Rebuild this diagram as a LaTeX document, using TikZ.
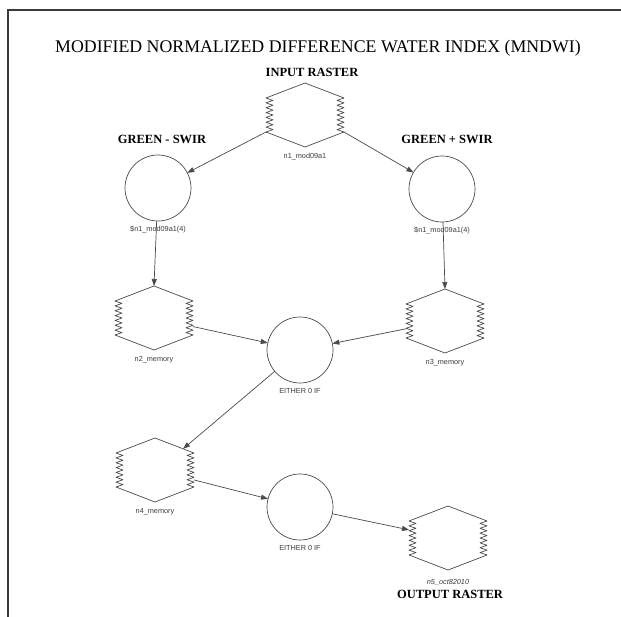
\documentclass[tikz,border=0pt]{standalone}
\usepackage{fontspec}
\setmainfont{Liberation Serif}
\newfontfamily\labelfont{Liberation Sans}
\usetikzlibrary{calc,arrows.meta}
\definecolor{linegray}{HTML}{4A4A4A}
\definecolor{framegray}{HTML}{3A3A3A}
\definecolor{labelgray}{HTML}{3C3C3C}

% Outline of a raster node: pointed top and bottom, zigzag sides folded inward
\newcommand\rasteroutline[1]{%
  \coordinate (#1-tl) at ($(#1.north west)+(0pt,-15pt)$);
  \coordinate (#1-bl) at ($(#1.south west)+(0pt,15pt)$);
  \coordinate (#1-tr) at ($(#1.north east)+(0pt,-15pt)$);
  \coordinate (#1-br) at ($(#1.south east)+(0pt,15pt)$);
  \draw[hexline] (#1-tl) -- (#1.north) -- (#1-tr);
  \draw[hexline] (#1-bl) -- (#1.south) -- (#1-br);
  \draw[hexline] (#1-tl) \foreach \k in {1,...,7} { -- ++(7pt,-2.4286pt) -- ++(-7pt,-2.4286pt) };
  \draw[hexline] (#1-tr) \foreach \k in {1,...,7} { -- ++(-7pt,-2.4286pt) -- ++(7pt,-2.4286pt) };
}

\begin{document}
\begin{tikzpicture}[x=1pt,y=-1pt,
  rasterbox/.style={rectangle, draw=none, minimum width=78pt, minimum height=64pt, inner sep=0pt, outer sep=0pt},
  procnode/.style={circle, draw=linegray, line width=0.7pt, minimum size=66pt, inner sep=0pt, outer sep=0pt},
  hexline/.style={draw=linegray, line width=0.7pt, line join=round},
  tag/.style={font=\labelfont\fontsize{7.3}{8}\selectfont, text=labelgray, inner sep=0pt},
  heading/.style={font=\fontsize{12.5}{14}\selectfont\bfseries, inner sep=0pt},
  flow/.style={draw=linegray, line width=0.7pt, -{Triangle[length=7pt,width=5pt]}},
]
\useasboundingbox (0,0) rectangle (621,616);
\fill[white] (0,0) rectangle (621,616);

% frame (left and top edges)
\draw[framegray, line width=2pt] (8,617) -- (8,10) -- (622,10);

% title and headings
\node[font=\fontsize{17.8}{20}\selectfont, inner sep=0pt] (title) at (318,48)
  {MODIFIED NORMALIZED DIFFERENCE WATER INDEX (MNDWI)};
\node[heading] (hin) at (312,72) {INPUT RASTER};
\node[heading] (hminus) at (162,139) {GREEN - SWIR};
\node[heading] (hplus) at (447,139) {GREEN + SWIR};
\node[heading] (hout) at (450,594) {OUTPUT RASTER};

% raster nodes
\node[rasterbox, label={[tag,label distance=6pt]below:n1\_mod09a1}] (n1) at (305,115) {};
\node[rasterbox, label={[tag,label distance=6pt]below:n2\_memory}] (n2) at (154,318) {};
\node[rasterbox, label={[tag,label distance=6pt]below:n3\_memory}] (n3) at (445,321) {};
\node[rasterbox, label={[tag,label distance=6pt]below:n4\_memory}] (n4) at (155,470) {};
\node[rasterbox, label={[tag,font=\labelfont\itshape\fontsize{7.3}{8}\selectfont,label distance=9pt]below:n5\_oct82010}] (n5) at (448,538) {};
\rasteroutline{n1}
\rasteroutline{n2}
\rasteroutline{n3}
\rasteroutline{n4}
\rasteroutline{n5}

% function nodes
\node[procnode, label={[tag,label distance=4.5pt]below:\$n1\_mod09a1(4)}] (c1) at (158,188) {};
\node[procnode, label={[tag,label distance=4.5pt]below:\$n1\_mod09a1(4)}] (c2) at (442,189) {};
\node[procnode, label={[tag,label distance=5pt]below:EITHER 0 IF}] (c3) at (300,350) {};
\node[procnode, label={[tag,label distance=5pt]below:EITHER 0 IF}] (c4) at (300,507) {};

% connectors
\draw[flow] (n1-bl) -- (c1);
\draw[flow] (n1-br) -- (c2);
\draw[flow] (c1) -- (n2.north);
\draw[flow] (c2) -- (n3.north);
\draw[flow] (n2) -- (c3);
\draw[flow] (n3) -- (c3);
\draw[flow] (c3) -- ($(n4.north)!0.72!(n4-tr)$);
\draw[flow] (n4) -- (c4);
\draw[flow] (c4) -- (n5);
\end{tikzpicture}
\end{document}
